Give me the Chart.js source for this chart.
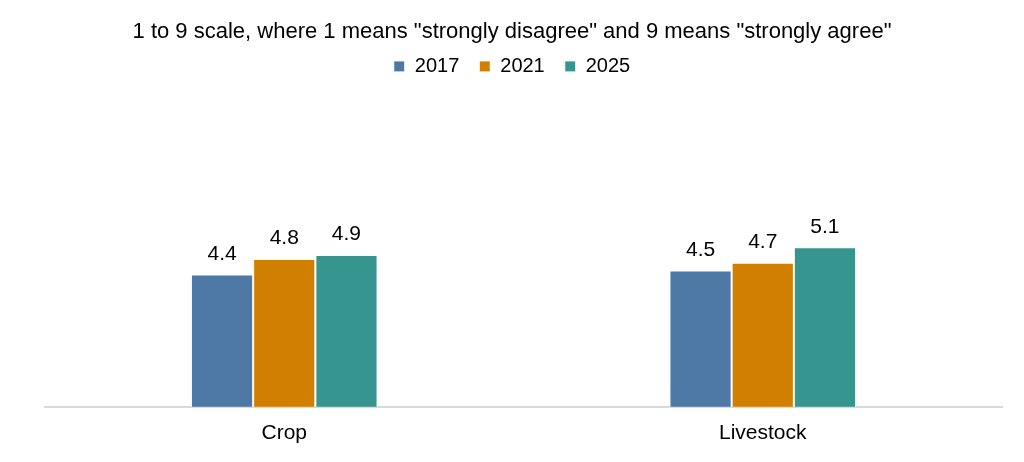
<!DOCTYPE html>
<html>
<head>
<meta charset="utf-8">
<script src="https://cdn.jsdelivr.net/npm/chart.js@4.4.1/dist/chart.umd.min.js"></script>
<style>
  html, body { margin: 0; padding: 0; background: #fff; }
  #wrap { width: 1024px; height: 462px; }
</style>
</head>
<body>
<div id="wrap"><canvas id="chart"></canvas></div>
<script>
const categories = ["Crop", "Livestock"];
const seriesLabels = ["2017", "2021", "2025"];
const values2017 = [4.4, 4.5];
const values2021 = [4.8, 4.7];
const values2025 = [4.9, 5.1];
const colors = ["#4E78A6", "#D17F00", "#36958F"];

const fontFamily = '"Liberation Sans", Arial, sans-serif';

const valueLabels = {
    id: 'valueLabels',
    afterDatasetsDraw(chart) {
        const ctx = chart.ctx;
        ctx.save();
        ctx.font = '21px ' + fontFamily;
        ctx.fillStyle = '#000';
        ctx.textAlign = 'center';
        ctx.textBaseline = 'bottom';
        chart.data.datasets.forEach((ds, i) => {
            chart.getDatasetMeta(i).data.forEach((bar, j) => {
                ctx.fillText(ds.data[j].toFixed(1), bar.x, bar.y - 10);
            });
        });
        ctx.restore();
    }
};

// extra room under the legend
const legendGap = {
    id: 'legendGap',
    beforeInit(chart) {
        const fit = chart.legend.fit;
        chart.legend.fit = function () {
            fit.bind(chart.legend)();
            this.height += 9;
        };
    }
};

const allValues = [values2017, values2021, values2025];

new Chart(document.getElementById('chart'), {
    type: 'bar',
    data: {
        labels: categories,
        datasets: seriesLabels.map((s, i) => ({
            label: s,
            data: allValues[i],
            backgroundColor: colors[i],
            borderColor: '#ffffff',
            borderWidth: 1,
            categoryPercentage: 0.39,
            barPercentage: 1.0
        }))
    },
    options: {
        responsive: true,
        maintainAspectRatio: false,
        animation: false,
        layout: { padding: { left: 22, right: 22, top: 8, bottom: 2 } },
        plugins: {
            title: {
                display: true,
                text: '1 to 9 scale, where 1 means "strongly disagree" and 9 means "strongly agree"',
                color: '#000',
                font: { family: fontFamily, size: 22, weight: 'normal' },
                padding: { top: 11, bottom: -9 }
            },
            legend: {
                display: true,
                labels: {
                    boxWidth: 11,
                    boxHeight: 11,
                    padding: 20,
                    color: '#000',
                    font: { family: fontFamily, size: 20 }
                }
            },
            tooltip: { enabled: false }
        },
        scales: {
            y: {
                min: 1,
                max: 9,
                grid: { display: false, drawTicks: false },
                border: { display: false },
                ticks: { display: false },
                afterFit(scale) { scale.width = 23; }
            },
            x: {
                grid: { display: false, drawTicks: false },
                border: { color: '#d9d9d9', width: 2 },
                ticks: {
                    color: '#000',
                    padding: 14,
                    font: { family: fontFamily, size: 21 }
                }
            }
        }
    },
    plugins: [valueLabels, legendGap]
});
</script>
</body>
</html>
